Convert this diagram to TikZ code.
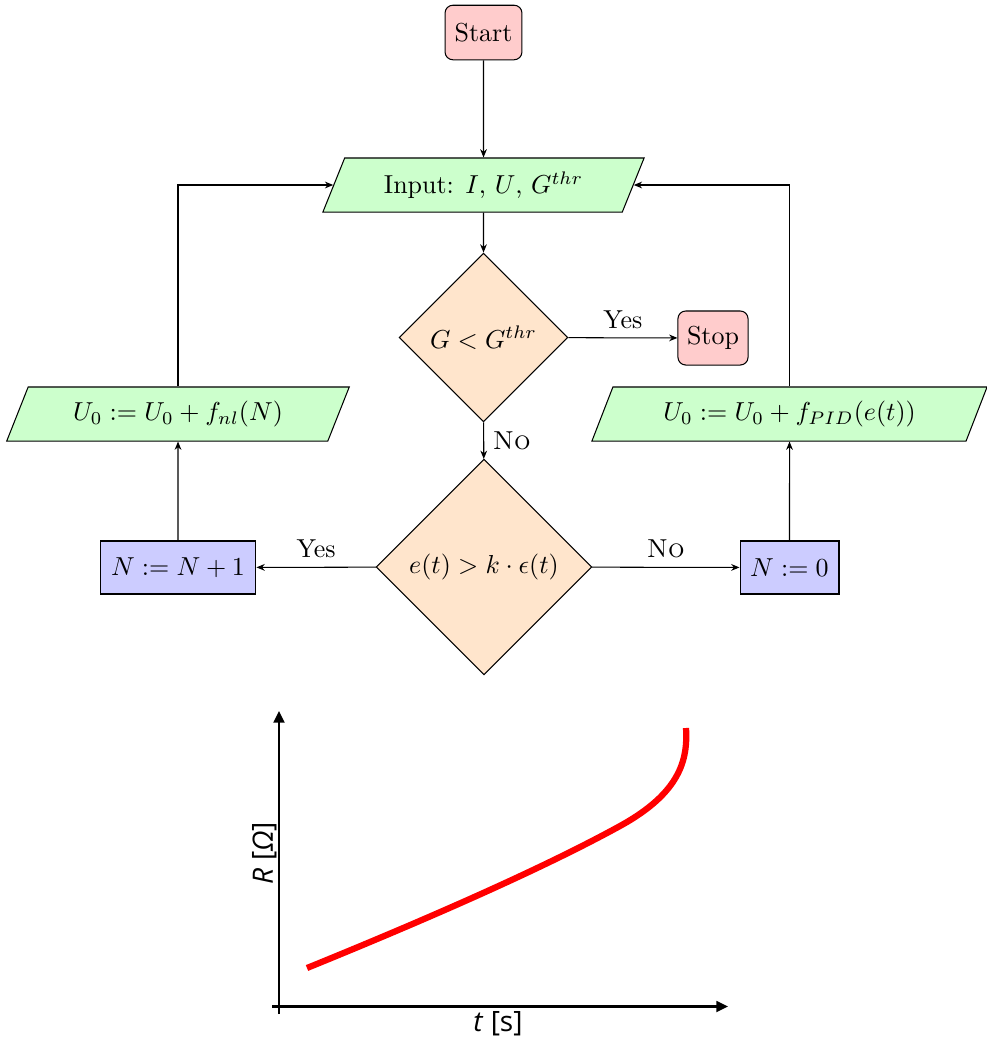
\documentclass[tikz,border=0pt]{standalone}
\usepackage{fontspec}
\newfontfamily\plotfont{Open Sans}
\usetikzlibrary{shapes.geometric,arrows.meta}
\begin{document}
\begin{tikzpicture}[x=0.385pt,y=-0.385pt,
  arr/.style={-{Stealth[length=3.2pt,width=2.6pt]}},
  term/.style={draw,rounded corners=3pt,fill=red!20,inner sep=0pt,minimum height=21pt},
  io/.style={draw,trapezium,trapezium left angle=60,trapezium right angle=120,trapezium stretches=true,fill=green!20,minimum height=20.8pt,inner sep=0pt},
  dec/.style={draw,diamond,aspect=1,fill=orange!20,inner sep=0pt},
  proc/.style={draw,rectangle,fill=blue!20,inner sep=0pt,minimum height=20.4pt},
  axis/.style={line width=0.8pt,-{Triangle[length=4.5pt,width=4.2pt]}},
  curve/.style={red,line width=2.4pt},
  plotlab/.style={font=\plotfont\fontsize{10.8}{13}\selectfont}
]
\useasboundingbox (0,0) rectangle (986,1037);
\node[term,minimum width=29.6pt] (start) at (483.5,32.5) {Start};
\node[io,minimum width=124.4pt] (input) at (483.5,185) {Input: $I$, $U$, $G^{thr}$};
\node[dec,minimum width=65pt,minimum height=65pt] (d1) at (483.5,337.5) {$G<G^{thr}$};
\node[term,minimum width=27pt,minimum height=20.8pt] (stop) at (713,338) {Stop};
\node[dec,minimum width=83pt,minimum height=83pt] (d2) at (484,567) {$e(t)>k\cdot\epsilon(t)$};
\node[proc,minimum width=60pt] (inc) at (178,567.5) {$N:=N+1$};
\node[proc,minimum width=38.1pt] (zero) at (789.5,567.5) {$N:=0$};
\node[io,minimum width=132.4pt] (left) at (178,414) {$U_0:=U_0+f_{nl}(N)$};
\node[io,minimum width=152.3pt] (right) at (789.5,414) {$U_0:=U_0+f_{PID}(e(t))$};

\draw[arr] (start) -- (input);
\draw[arr] (input) -- (d1);
\draw[arr] (d1) -- node[above] {Yes} (stop);
\draw[arr] (d1) -- node[right] {\textsc{No}} (d2);
\draw[arr] (d2) -- node[above] {Yes} (inc);
\draw[arr] (d2) -- node[above] {\textsc{No}} (zero);
\draw[arr] (inc) -- (left);
\draw[arr] (zero) -- (right);
\draw[arr] (left.north) |- (input.west);
\draw[arr] (right.north) |- (input.east);

% plot
\coordinate (ytop) at (279,711);
\coordinate (xend) at (728,1006.5);
\coordinate (ybot) at (279,1014);
\coordinate (xbeg) at (272,1006.5);
\draw[axis] (ybot) -- (ytop);
\draw[axis] (xbeg) -- (xend);
\draw[curve] (307,968) .. controls (420,922) and (540,870) .. (620,826)
  .. controls (680,793) and (688,760) .. (686,728);
\node[rotate=90,plotlab] (ylab) at (265,853) {\textit{R} [\textit{Ω}]};
\node[plotlab] (xlab) at (498,1024) {\textit{t} [s]};
\end{tikzpicture}
\end{document}
